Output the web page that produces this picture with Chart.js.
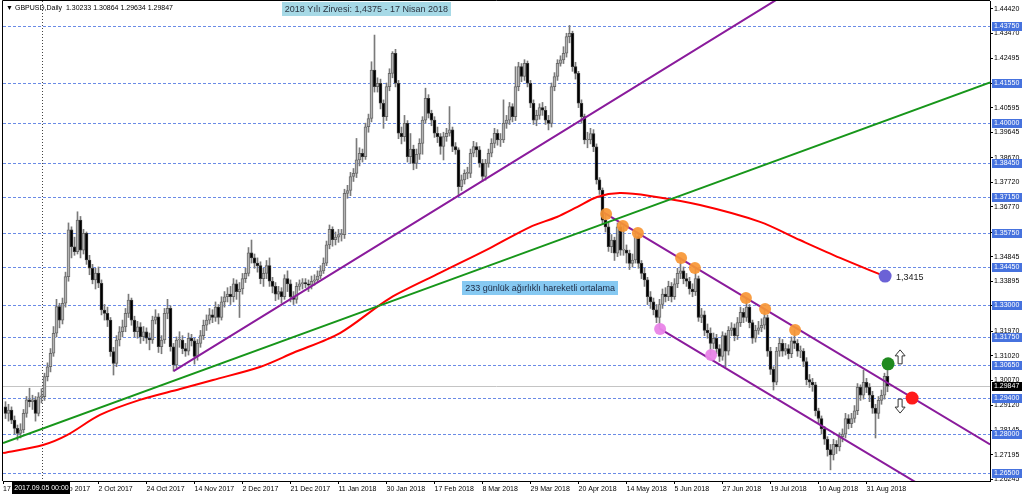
<!DOCTYPE html>
<html>
<head>
<meta charset="utf-8">
<script src="https://cdn.jsdelivr.net/npm/chart.js@4.4.1/dist/chart.umd.min.js"></script>
<style>
  html, body { margin: 0; padding: 0; background: #fff; }
  #wrap { width: 1024px; height: 499px; }
</style>
</head>
<body>
<div id="wrap"><canvas id="chart" width="1024" height="499"></canvas></div>
<script>
// GBPUSD daily candles, one entry per bar (oldest first)
const opens = [
  1.2905,1.2880,1.2893,1.2854,1.2822,1.2803,1.2816,1.2880,1.2932,1.2925,
  1.2932,1.2880,1.2944,1.2944,1.3022,1.3060,1.3112,1.3189,1.3292,1.3240,
  1.3305,1.3408,1.3588,1.3523,1.3504,1.3626,1.3510,1.3575,1.3472,1.3440,
  1.3395,1.3421,1.3382,1.3279,1.3266,1.3240,1.3118,1.3073,1.3163,1.3195,
  1.3214,1.3266,1.3317,1.3240,1.3195,1.3214,1.3176,1.3195,1.3170,1.3163,
  1.3240,1.3253,1.3137,1.3163,1.3266,1.3285,1.3137,1.3067,1.3163,1.3163,
  1.3130,1.3120,1.3170,1.3160,1.3100,1.3150,1.3180,1.3220,1.3240,1.3260,
  1.3250,1.3290,1.3250,1.3310,1.3330,1.3340,1.3330,1.3380,1.3350,1.3360,
  1.3400,1.3420,1.3500,1.3480,1.3460,1.3450,1.3400,1.3420,1.3450,1.3390,
  1.3370,1.3340,1.3350,1.3330,1.3400,1.3380,1.3330,1.3320,1.3370,1.3380,
  1.3385,1.3380,1.3375,1.3390,1.3395,1.3410,1.3430,1.3460,1.3530,1.3590,
  1.3550,1.3560,1.3570,1.3570,1.3729,1.3740,1.3794,1.3806,1.3858,1.3884,
  1.3871,1.3986,1.4018,1.4205,1.4141,1.4154,1.4077,1.4025,1.4141,1.4192,
  1.4270,1.4154,1.3961,1.3948,1.3999,1.3871,1.3900,1.3845,1.3880,1.3922,
  1.4012,1.4096,1.4038,1.4012,1.3961,1.3948,1.3910,1.3948,1.3961,1.3974,
  1.3910,1.3897,1.3755,1.3781,1.3806,1.3806,1.3884,1.3910,1.3897,1.3846,
  1.3794,1.3845,1.3884,1.3922,1.3961,1.3935,1.3935,1.3999,1.4012,1.4064,
  1.4025,1.4141,1.4218,1.4180,1.4231,1.4154,1.4077,1.4012,1.4030,1.4060,
  1.4050,1.4012,1.3999,1.4141,1.4180,1.4231,1.4244,1.4270,1.4334,1.4347,
  1.4218,1.4192,1.4077,1.4025,1.3935,1.3935,1.3960,1.3909,1.3781,1.3742,
  1.3626,1.3600,1.3523,1.3549,1.3498,1.3600,1.3510,1.3510,1.3498,1.3459,
  1.3472,1.3562,1.3459,1.3420,1.3395,1.3330,1.3310,1.3280,1.3250,1.3300,
  1.3340,1.3330,1.3370,1.3330,1.3380,1.3420,1.3430,1.3400,1.3390,1.3360,
  1.3350,1.3400,1.3250,1.3260,1.3200,1.3190,1.3150,1.3170,1.3130,1.3100,
  1.3180,1.3120,1.3200,1.3210,1.3180,1.3230,1.3270,1.3250,1.3290,1.3230,
  1.3170,1.3200,1.3210,1.3220,1.3250,1.3120,1.3050,1.3000,1.3120,1.3150,
  1.3120,1.3130,1.3110,1.3160,1.3150,1.3120,1.3120,1.3080,1.3010,1.3000,
  1.2990,1.2890,1.2860,1.2820,1.2780,1.2740,1.2720,1.2760,1.2750,1.2790,
  1.2800,1.2860,1.2840,1.2860,1.2890,1.2980,1.2950,1.3000,1.2980,1.2950,
  1.2900,1.2880,1.2930,1.2950,1.30233
];
const highs = [
  1.2925,1.2915,1.2905,1.2870,1.2835,1.2840,1.2895,1.2945,1.2977,1.2950,
  1.2945,1.2960,1.2975,1.3035,1.3075,1.3130,1.3215,1.3320,1.3305,1.3325,
  1.3425,1.3615,1.3600,1.3560,1.3658,1.3640,1.3590,1.3580,1.3490,1.3455,
  1.3440,1.3445,1.3395,1.3300,1.3290,1.3250,1.3135,1.3180,1.3215,1.3240,
  1.3285,1.3340,1.3325,1.3255,1.3235,1.3230,1.3215,1.3210,1.3190,1.3255,
  1.3280,1.3265,1.3180,1.3285,1.3320,1.3295,1.3150,1.3175,1.3195,1.3180,
  1.3150,1.3190,1.3185,1.3170,1.3165,1.3200,1.3240,1.3260,1.3285,1.3280,
  1.3310,1.3300,1.3330,1.3350,1.3365,1.3370,1.3400,1.3395,1.3385,1.3420,
  1.3440,1.3520,1.3549,1.3495,1.3480,1.3465,1.3440,1.3470,1.3480,1.3405,
  1.3385,1.3370,1.3365,1.3415,1.3430,1.3395,1.3350,1.3385,1.3395,1.3400,
  1.3400,1.3395,1.3410,1.3415,1.3430,1.3450,1.3480,1.3545,1.3607,1.3600,
  1.3580,1.3590,1.3590,1.3745,1.3760,1.3810,1.3825,1.3941,1.3905,1.3900,
  1.4000,1.4035,1.4237,1.4340,1.4175,1.4170,1.4090,1.4155,1.4210,1.4276,
  1.4285,1.4165,1.3985,1.4030,1.4010,1.3960,1.3915,1.3900,1.3940,1.4025,
  1.4135,1.4110,1.4050,1.4025,1.3985,1.3960,1.3965,1.3980,1.4064,1.3985,
  1.3925,1.3905,1.3800,1.3820,1.3830,1.3900,1.3930,1.3925,1.3910,1.3860,
  1.3860,1.3900,1.3940,1.3980,1.3975,1.3960,1.4090,1.4030,1.4080,1.4075,
  1.4218,1.4235,1.4230,1.4245,1.4240,1.4165,1.4090,1.4050,1.4075,1.4080,
  1.4065,1.4030,1.4155,1.4195,1.4245,1.4260,1.4295,1.4347,1.4377,1.4355,
  1.4235,1.4200,1.4090,1.4035,1.3965,1.3980,1.3975,1.3920,1.3790,1.3750,
  1.3649,1.3615,1.3570,1.3560,1.3615,1.3610,1.3603,1.3530,1.3510,1.3495,
  1.3576,1.3576,1.3470,1.3440,1.3405,1.3350,1.3325,1.3300,1.3320,1.3360,
  1.3365,1.3390,1.3385,1.3400,1.3440,1.3480,1.3445,1.3420,1.3405,1.3380,
  1.3441,1.3410,1.3285,1.3275,1.3225,1.3210,1.3190,1.3185,1.3145,1.3195,
  1.3190,1.3215,1.3230,1.3225,1.3250,1.3290,1.3285,1.3325,1.3300,1.3240,
  1.3220,1.3235,1.3245,1.3283,1.3260,1.3135,1.3060,1.3135,1.3170,1.3165,
  1.3150,1.3145,1.3175,1.3202,1.3165,1.3140,1.3130,1.3095,1.3030,1.3015,
  1.3000,1.2900,1.2870,1.2830,1.2790,1.2760,1.2780,1.2775,1.2805,1.2820,
  1.2880,1.2875,1.2880,1.2910,1.2995,1.2990,1.3047,1.3015,1.2995,1.2965,
  1.2915,1.2945,1.2970,1.3035,1.30864
];
const lows = [
  1.2860,1.2850,1.2840,1.2800,1.2777,1.2785,1.2805,1.2865,1.2905,1.2895,
  1.2850,1.2870,1.2920,1.2930,1.3005,1.3040,1.3100,1.3175,1.3210,1.3225,
  1.3290,1.3390,1.3480,1.3490,1.3495,1.3480,1.3495,1.3455,1.3415,1.3380,
  1.3360,1.3365,1.3260,1.3240,1.3215,1.3100,1.3028,1.3060,1.3140,1.3175,
  1.3195,1.3250,1.3220,1.3175,1.3170,1.3150,1.3160,1.3150,1.3125,1.3150,
  1.3225,1.3115,1.3110,1.3150,1.3245,1.3120,1.3043,1.3055,1.3135,1.3110,
  1.3100,1.3105,1.3140,1.3070,1.3085,1.3135,1.3165,1.3200,1.3225,1.3230,
  1.3235,1.3225,1.3240,1.3290,1.3310,1.3300,1.3310,1.3320,1.3250,1.3340,
  1.3385,1.3410,1.3460,1.3440,1.3425,1.3380,1.3370,1.3400,1.3370,1.3345,
  1.3315,1.3320,1.3305,1.3320,1.3350,1.3310,1.3300,1.3305,1.3355,1.3360,
  1.3365,1.3350,1.3360,1.3375,1.3385,1.3400,1.3420,1.3450,1.3515,1.3525,
  1.3530,1.3540,1.3545,1.3555,1.3710,1.3720,1.3775,1.3790,1.3835,1.3850,
  1.3860,1.3965,1.4005,1.4120,1.4120,1.4055,1.3980,1.4010,1.4125,1.4175,
  1.4140,1.3940,1.3920,1.3930,1.3850,1.3845,1.3820,1.3825,1.3860,1.3880,
  1.4000,1.4020,1.3990,1.3945,1.3925,1.3880,1.3858,1.3930,1.3950,1.3890,
  1.3880,1.3716,1.3740,1.3765,1.3785,1.3790,1.3870,1.3870,1.3830,1.3775,
  1.3780,1.3830,1.3870,1.3905,1.3915,1.3910,1.3925,1.3980,1.3995,1.4005,
  1.4010,1.4125,1.4160,1.4165,1.4140,1.4060,1.3995,1.3990,1.4015,1.4030,
  1.3995,1.3974,1.3985,1.4125,1.4165,1.4220,1.4230,1.4255,1.4310,1.4200,
  1.4170,1.4060,1.4000,1.3920,1.3905,1.3920,1.3890,1.3765,1.3725,1.3610,
  1.3580,1.3505,1.3500,1.3470,1.3485,1.3490,1.3490,1.3460,1.3435,1.3445,
  1.3460,1.3440,1.3400,1.3370,1.3300,1.3285,1.3260,1.3230,1.3206,1.3285,
  1.3310,1.3315,1.3310,1.3320,1.3365,1.3400,1.3380,1.3370,1.3340,1.3330,
  1.3335,1.3235,1.3230,1.3180,1.3170,1.3105,1.3130,1.3110,1.3080,1.3085,
  1.3059,1.3105,1.3180,1.3160,1.3165,1.3215,1.3230,1.3235,1.3210,1.3150,
  1.3155,1.3185,1.3195,1.3205,1.3100,1.3030,1.2970,1.2990,1.3100,1.3100,
  1.3105,1.3090,1.3095,1.3130,1.3100,1.3095,1.3060,1.2990,1.2980,1.2965,
  1.2870,1.2840,1.2800,1.2760,1.2715,1.2662,1.2700,1.2725,1.2735,1.2770,
  1.2785,1.2820,1.2825,1.2845,1.2875,1.2930,1.2935,1.2960,1.2925,1.2880,
  1.2785,1.2860,1.2915,1.2935,1.29634
];
const closes = [
  1.2880,1.2893,1.2854,1.2822,1.2803,1.2816,1.2880,1.2932,1.2925,1.2932,
  1.2880,1.2944,1.2944,1.3022,1.3060,1.3112,1.3189,1.3292,1.3240,1.3305,
  1.3408,1.3588,1.3523,1.3504,1.3626,1.3510,1.3575,1.3472,1.3440,1.3395,
  1.3421,1.3382,1.3279,1.3266,1.3240,1.3118,1.3073,1.3163,1.3195,1.3214,
  1.3266,1.3317,1.3240,1.3195,1.3214,1.3176,1.3195,1.3170,1.3163,1.3240,
  1.3253,1.3137,1.3163,1.3266,1.3285,1.3137,1.3067,1.3163,1.3163,1.3130,
  1.3120,1.3170,1.3160,1.3100,1.3150,1.3180,1.3220,1.3240,1.3260,1.3250,
  1.3290,1.3250,1.3310,1.3330,1.3340,1.3330,1.3380,1.3350,1.3360,1.3400,
  1.3420,1.3500,1.3480,1.3460,1.3450,1.3400,1.3420,1.3450,1.3390,1.3370,
  1.3340,1.3350,1.3330,1.3400,1.3380,1.3330,1.3320,1.3370,1.3380,1.3385,
  1.3380,1.3375,1.3390,1.3395,1.3410,1.3430,1.3460,1.3530,1.3590,1.3550,
  1.3560,1.3570,1.3570,1.3729,1.3740,1.3794,1.3806,1.3858,1.3884,1.3871,
  1.3986,1.4018,1.4205,1.4141,1.4154,1.4077,1.4025,1.4141,1.4192,1.4270,
  1.4154,1.3961,1.3948,1.3999,1.3871,1.3900,1.3845,1.3880,1.3922,1.4012,
  1.4096,1.4038,1.4012,1.3961,1.3948,1.3910,1.3948,1.3961,1.3974,1.3910,
  1.3897,1.3755,1.3781,1.3806,1.3806,1.3884,1.3910,1.3897,1.3846,1.3794,
  1.3845,1.3884,1.3922,1.3961,1.3935,1.3935,1.3999,1.4012,1.4064,1.4025,
  1.4141,1.4218,1.4180,1.4231,1.4154,1.4077,1.4012,1.4030,1.4060,1.4050,
  1.4012,1.3999,1.4141,1.4180,1.4231,1.4244,1.4270,1.4334,1.4347,1.4218,
  1.4192,1.4077,1.4025,1.3935,1.3935,1.3960,1.3909,1.3781,1.3742,1.3626,
  1.3600,1.3523,1.3549,1.3498,1.3600,1.3510,1.3510,1.3498,1.3459,1.3472,
  1.3562,1.3459,1.3420,1.3395,1.3330,1.3310,1.3280,1.3250,1.3300,1.3340,
  1.3330,1.3370,1.3330,1.3380,1.3420,1.3430,1.3400,1.3390,1.3360,1.3350,
  1.3400,1.3250,1.3260,1.3200,1.3190,1.3150,1.3170,1.3130,1.3100,1.3180,
  1.3120,1.3200,1.3210,1.3180,1.3230,1.3270,1.3250,1.3290,1.3230,1.3170,
  1.3200,1.3210,1.3220,1.3250,1.3120,1.3050,1.3000,1.3120,1.3150,1.3120,
  1.3130,1.3110,1.3160,1.3150,1.3120,1.3120,1.3080,1.3010,1.3000,1.2990,
  1.2890,1.2860,1.2820,1.2780,1.2740,1.2720,1.2760,1.2750,1.2790,1.2800,
  1.2860,1.2840,1.2860,1.2890,1.2980,1.2950,1.3000,1.2980,1.2950,1.2900,
  1.2880,1.2930,1.2950,1.3023,1.29847
];

// x axis: bar slots (incl. empty space on the right) and date labels
const slotCount = 329;
const firstSlot = -5 / 6;
const dateTickIndex = [firstSlot, 15, 31, 47, 63, 79, 95, 111, 127, 143, 159, 175, 191, 207, 223, 239, 255, 271, 287];
const dateTickText = ['17', '14 Sep 2017', '2 Oct 2017', '24 Oct 2017', '14 Nov 2017', '2 Dec 2017',
  '21 Dec 2017', '11 Jan 2018', '30 Jan 2018', '17 Feb 2018', '8 Mar 2018', '29 Mar 2018',
  '20 Apr 2018', '14 May 2018', '5 Jun 2018', '27 Jun 2018', '19 Jul 2018', '10 Aug 2018', '31 Aug 2018'];
const crossIndex = 12;
const crossText = '2017.09.05 00:00';

// y axis
const priceMin = 1.261892;
const priceMax = 1.447149;
const priceTicks = [1.44420, 1.43470, 1.42495, 1.41545, 1.40595, 1.39645, 1.38670, 1.37720, 1.36770,
  1.35795, 1.34845, 1.33895, 1.32945, 1.31970, 1.31020, 1.30070, 1.29120, 1.28145, 1.27195, 1.26245];
const levels = [1.4375, 1.4155, 1.4000, 1.3845, 1.3715, 1.3575, 1.3445, 1.3300, 1.3175, 1.3065, 1.2940, 1.2800, 1.2650];
const lastPrice = 1.29847;

// 233 day weighted moving average
const maIndex = [-0.8, 12.5, 20.5, 31.5, 44.8, 58.2, 69.2, 84.8, 95.8, 111.5, 128.2, 144.8, 161.5,
  174.8, 183.8, 190.5, 197.2, 204.8, 214.8, 231.5, 251.5, 264.8, 278.2, 292.8];
const maValue = [1.2727, 1.2758, 1.2796, 1.2874, 1.2932, 1.2974, 1.3009, 1.3059, 1.3113, 1.3190, 1.3325,
  1.3422, 1.3518, 1.3599, 1.3638, 1.3676, 1.3715, 1.3730, 1.3719, 1.3684, 1.3619, 1.3549, 1.3480, 1.3410];

// trend lines (two anchor points each)
const riseX = [56, 262];
const riseY = [1.3043, 1.4512];
const greenX = [-0.8, 328.2];
const greenY = [1.2765, 1.4157];
const chanTopX = [199.3, 328.2];
const chanTopY = [1.3656, 1.2760];
const chanLowX = [218.2, 328.2];
const chanLowY = [1.3206, 1.2442];

// marked touches
const orangeX = [200.2, 205.8, 210.8, 225.2, 229.8, 246.8, 253.2, 263.2];
const orangeY = [1.3649, 1.3603, 1.3576, 1.3480, 1.3441, 1.3325, 1.3283, 1.3202];
const pinkX = [218.2, 235.2];
const pinkY = [1.3206, 1.3105];
const maDot = [293.2, 1.3410];
const greenDot = [294.2, 1.3071];
const redDot = [302.2, 1.2939];
const arrowUp = [298.2, 1.3098];
const arrowDown = [298.2, 1.2908];

const titleText = 'GBPUSD,Daily  1.30233 1.30864 1.29634 1.29847';
const topNote = { text: '2018 Yılı Zirvesi: 1,4375 - 17 Nisan 2018', x: 120.3, y: 1.4439 };
const maNote = { text: '233 günlük ağırlıklı hareketli ortalama', x: 178.2, y: 1.3362 };
const maLabel = { text: '1,3415', x: 296.8, y: 1.3406 };

const FONT = '"Liberation Sans", Arial, sans-serif';
Chart.defaults.font.family = FONT;
Chart.defaults.font.size = 7;
Chart.defaults.color = '#000';

const pts = (xs, ys) => xs.map((x, i) => ({ x: x, y: ys[i] }));
const isBull = closes.map((c, i) => c >= opens[i]);

function lineSet(xs, ys, color, width, order) {
  return { type: 'line', data: pts(xs, ys), borderColor: color, borderWidth: width,
    pointRadius: 0, fill: false, order: order };
}
function dotSet(data, color, r) {
  return { type: 'line', data: data, showLine: false, pointRadius: r, pointHoverRadius: r,
    pointBackgroundColor: color, pointBorderColor: color, pointBorderWidth: 0, order: 0 };
}

function textBox(ctx, text, cx, cy, bg, fg, font) {
  ctx.font = font;
  const w = ctx.measureText(text).width + 6;
  ctx.fillStyle = bg;
  ctx.fillRect(Math.round(cx - w / 2), Math.round(cy - 7), Math.round(w), 14);
  ctx.fillStyle = fg;
  ctx.textAlign = 'center';
  ctx.textBaseline = 'middle';
  ctx.fillText(text, cx, cy + 0.5);
}

function arrow(ctx, cx, cy, up) {
  const d = up ? 1 : -1;
  const top = cy - 7 * d, bot = cy + 7 * d, neck = top + 6 * d;
  ctx.beginPath();
  ctx.moveTo(cx, top);
  ctx.lineTo(cx + 5, neck);
  ctx.lineTo(cx + 2, neck);
  ctx.lineTo(cx + 2, bot);
  ctx.lineTo(cx - 2, bot);
  ctx.lineTo(cx - 2, neck);
  ctx.lineTo(cx - 5, neck);
  ctx.closePath();
  ctx.fillStyle = '#fff';
  ctx.fill();
  ctx.strokeStyle = '#333';
  ctx.lineWidth = 1;
  ctx.stroke();
}

const overlay = {
  id: 'overlay',
  beforeDatasetsDraw(chart) {
    const { ctx, chartArea: a, scales: { x, y } } = chart;
    ctx.save();
    ctx.lineWidth = 1;
    ctx.strokeStyle = '#c4c4c4';
    let py = Math.round(y.getPixelForValue(lastPrice)) + 0.5;
    ctx.beginPath(); ctx.moveTo(a.left, py); ctx.lineTo(a.right, py); ctx.stroke();

    ctx.strokeStyle = '#6a8be6';
    ctx.setLineDash([3, 2]);
    levels.forEach(v => {
      py = Math.round(y.getPixelForValue(v)) + 0.5;
      ctx.beginPath(); ctx.moveTo(a.left, py); ctx.lineTo(a.right, py); ctx.stroke();
    });

    ctx.strokeStyle = '#444';
    ctx.setLineDash([1, 2]);
    const px = Math.round(x.getPixelForValue(crossIndex)) + 0.5;
    ctx.beginPath(); ctx.moveTo(px, a.top); ctx.lineTo(px, a.bottom); ctx.stroke();
    ctx.restore();
  },
  afterDraw(chart) {
    const { ctx, chartArea: a, scales: { x, y } } = chart;
    ctx.save();

    // frame
    ctx.strokeStyle = '#000';
    ctx.lineWidth = 1;
    ctx.beginPath();
    ctx.moveTo(a.left - 0.5, a.bottom); ctx.lineTo(a.left - 0.5, a.top - 0.5); ctx.lineTo(a.right, a.top - 0.5);
    ctx.stroke();

    // header
    ctx.fillStyle = '#000';
    ctx.font = '7px ' + FONT;
    ctx.textAlign = 'left';
    ctx.textBaseline = 'middle';
    ctx.fillText('▼', a.left + 3, 8);
    ctx.fillText(titleText, a.left + 12, 8);

    // notes
    textBox(ctx, topNote.text, x.getPixelForValue(topNote.x), y.getPixelForValue(topNote.y),
      '#a6d9e6', '#2b3440', '9px ' + FONT);
    textBox(ctx, maNote.text, x.getPixelForValue(maNote.x), y.getPixelForValue(maNote.y),
      '#86c9f2', '#1d2a44', '9px ' + FONT);
    ctx.fillStyle = '#222';
    ctx.font = '9px ' + FONT;
    ctx.textAlign = 'left';
    ctx.fillText(maLabel.text, x.getPixelForValue(maLabel.x), y.getPixelForValue(maLabel.y));

    arrow(ctx, x.getPixelForValue(arrowUp[0]), y.getPixelForValue(arrowUp[1]), true);
    arrow(ctx, x.getPixelForValue(arrowDown[0]), y.getPixelForValue(arrowDown[1]), false);

    // price tags on the right axis
    ctx.font = '7px ' + FONT;
    ctx.textBaseline = 'middle';
    const tag = (v, bg) => {
      const py = Math.round(y.getPixelForValue(v));
      ctx.fillStyle = bg;
      ctx.fillRect(a.right + 2, py - 4, 30, 9);
      ctx.fillStyle = '#fff';
      ctx.textAlign = 'left';
      ctx.fillText(v.toFixed(5), a.right + 4, py + 0.5);
    };
    levels.forEach(v => tag(v, '#4672de'));
    tag(lastPrice, '#000');

    // crosshair date tag
    const cx = x.getPixelForValue(crossIndex);
    ctx.font = '7px ' + FONT;
    const w = ctx.measureText(crossText).width + 4;
    ctx.fillStyle = '#000';
    ctx.fillRect(Math.round(cx - w / 2), a.bottom + 1, Math.round(w), 12);
    ctx.fillStyle = '#fff';
    ctx.textAlign = 'center';
    ctx.fillText(crossText, cx, a.bottom + 7.5);
    ctx.restore();
  }
};

new Chart(document.getElementById('chart'), {
  type: 'bar',
  data: {
    datasets: [
      { type: 'bar', data: closes.map((c, i) => ({ x: i, y: [lows[i], highs[i]] })),
        backgroundColor: '#7a7a7a', borderWidth: 0, barThickness: 1, grouped: false, order: 6 },
      { type: 'bar', data: closes.map((c, i) => ({ x: i, y: [opens[i], c] })),
        backgroundColor: isBull.map(b => b ? '#b4b4b4' : '#000000'),
        borderColor: isBull.map(b => b ? '#6a6a6a' : '#333333'),
        borderWidth: 1, borderSkipped: false, barThickness: 3, minBarLength: 1, grouped: false, order: 5 },
      lineSet(maIndex, maValue, '#ff0000', 2, 3),
      lineSet(greenX, greenY, '#17961a', 2, 2),
      lineSet(riseX, riseY, '#8a1b9c', 2, 2),
      lineSet(chanTopX, chanTopY, '#8a1b9c', 2, 2),
      lineSet(chanLowX, chanLowY, '#8a1b9c', 2, 2),
      dotSet(pts(orangeX, orangeY), 'rgba(247,150,52,0.92)', 6),
      dotSet(pts(pinkX, pinkY), 'rgba(233,132,232,0.95)', 6),
      dotSet([{ x: maDot[0], y: maDot[1] }], '#6b62d6', 6.5),
      dotSet([{ x: greenDot[0], y: greenDot[1] }], '#1f8a1f', 6.5),
      dotSet([{ x: redDot[0], y: redDot[1] }], '#ff1a1a', 6.5)
    ]
  },
  options: {
    responsive: false,
    animation: false,
    events: [],
    layout: { autoPadding: false, padding: { left: 3, top: 1, right: 0, bottom: 0 } },
    elements: { line: { tension: 0.3 } },
    plugins: { legend: { display: false }, tooltip: { enabled: false } },
    scales: {
      x: {
        type: 'linear',
        min: firstSlot,
        max: slotCount + firstSlot,
        offset: false,
        afterBuildTicks: s => { s.ticks = dateTickIndex.map(v => ({ value: v })); },
        afterFit: s => { s.height = 18; s.paddingLeft = 0; s.paddingRight = 0; },
        grid: { drawOnChartArea: false, offset: false, tickLength: 3, color: '#000' },
        border: { color: '#000' },
        ticks: { autoSkip: false, maxRotation: 0, minRotation: 0, align: 'start', padding: 1,
          font: { size: 7 }, callback: v => dateTickText[dateTickIndex.indexOf(v)] }
      },
      y: {
        position: 'right',
        min: priceMin,
        max: priceMax,
        afterBuildTicks: s => { s.ticks = priceTicks.map(v => ({ value: v })); },
        afterFit: s => { s.width = 34; s.paddingTop = 0; s.paddingBottom = 0; },
        grid: { drawOnChartArea: false, tickLength: 3, color: '#000' },
        border: { color: '#000' },
        ticks: { padding: 1, font: { size: 7 }, callback: v => v.toFixed(5) }
      }
    }
  },
  plugins: [overlay]
});
</script>
</body>
</html>
